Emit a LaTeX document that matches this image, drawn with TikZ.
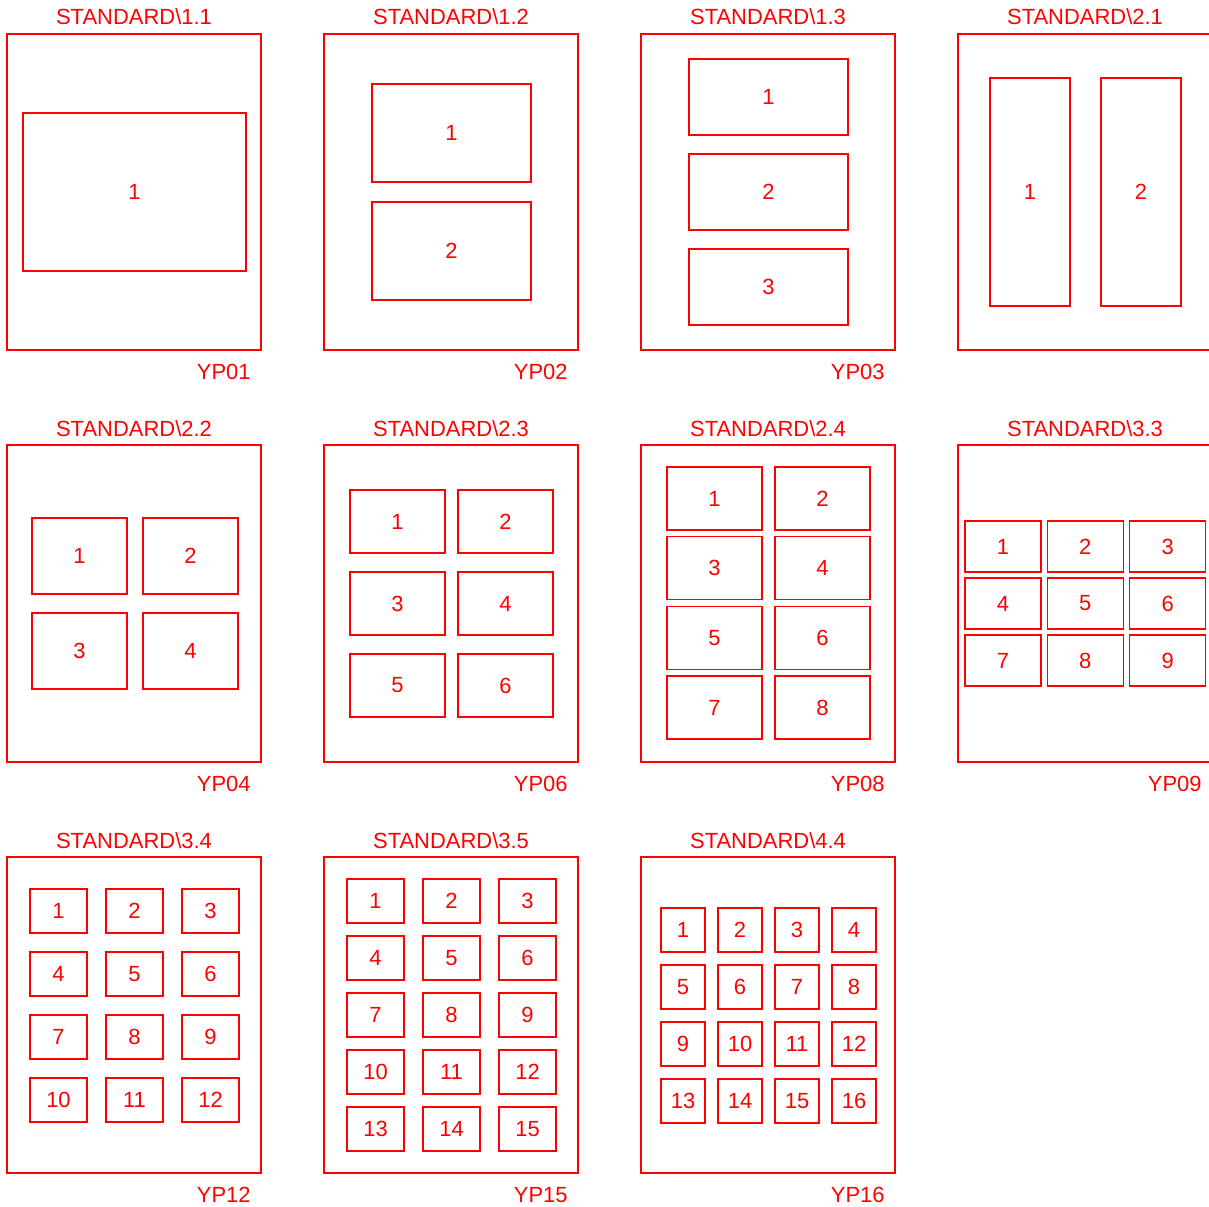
\documentclass[tikz,border=0pt]{standalone}
\usepackage{fontspec}
\setmainfont{Liberation Sans}

\tikzset{
  page/.style={draw=red, line width=0.75pt},
  cell/.style={draw=red, line width=0.75pt},
  num/.style={text=red, inner sep=0pt},
  ttl/.style={text=red, anchor=base, inner sep=0pt},
  yp/.style={text=red, anchor=base east, inner sep=0pt}
}
% name, x0, y0, w, h, dx, dy, cols, rows (all in px)
\newcommand{\layoutgrid}[9]{%
  \foreach \r in {1,...,#9} \foreach \c in {1,...,#8} {
    \pgfmathtruncatemacro\cellno{(\r-1)*#8+\c}
    \draw[cell] ({#2+(\c-1)*#6},{#3+(\r-1)*#7}) rectangle ++(#4,#5);
    \node[num] (#1-\cellno) at ({#2+(\c-1)*#6+#4/2},{#3+(\r-1)*#7+#5/2}) {\cellno};
  }}

\begin{document}
\begin{tikzpicture}[x=0.02cm, y=-0.02cm, font=\fontsize{12.5}{15}\selectfont]
\useasboundingbox (0,0) rectangle (1209,1206);

% page outlines with titles and codes
\foreach \px/\pt/\pb/\ttl/\yp [count=\k] in {7/34/350/1.1/YP01, 324/34/350/1.2/YP02, 641/34/350/1.3/YP03,
    7/445/762/2.2/YP04, 324/445/762/2.3/YP06, 641/445/762/2.4/YP08, 958/445/762/3.3/YP09,
    7/857/1173/3.4/YP12, 324/857/1173/3.5/YP15, 641/857/1173/4.4/YP16}{
  \draw[page] (\px,\pt) rectangle ({\px+254},\pb);
  \node[ttl] (t\k) at ({\px+127},{\pt-9}) {STANDARD\textbackslash\ttl};
  \node[yp] (y\k) at ({\px+244},{\pb+29}) {\yp};
}
\draw[page] (958,34) rectangle (1212,350);
\node[ttl] (t21) at (1085,25) {STANDARD\textbackslash 2.1};

% frames
\layoutgrid{g11}{23}{113}{223}{158}{0}{0}{1}{1}
\layoutgrid{g12}{372}{84}{159}{98}{0}{118}{1}{2}
\layoutgrid{g13}{689}{59}{159}{76}{0}{95}{1}{3}
\layoutgrid{g21}{990}{78}{80}{228}{111}{0}{2}{1}
\layoutgrid{g22}{32}{518}{95}{76}{111}{95}{2}{2}
\layoutgrid{g23}{350}{490}{95}{63}{108}{82}{2}{3}
\layoutgrid{g24}{667}{467}{95}{63}{108}{69.7}{2}{4}
\layoutgrid{g33}{965}{521}{76}{51}{82.3}{57}{3}{3}
\layoutgrid{g34}{30}{889}{57}{44}{76}{63}{3}{4}
\layoutgrid{g35}{347}{879}{57}{44}{76}{57}{3}{5}
\layoutgrid{g44}{661}{908}{44}{44}{57}{57}{4}{4}
\end{tikzpicture}
\end{document}
